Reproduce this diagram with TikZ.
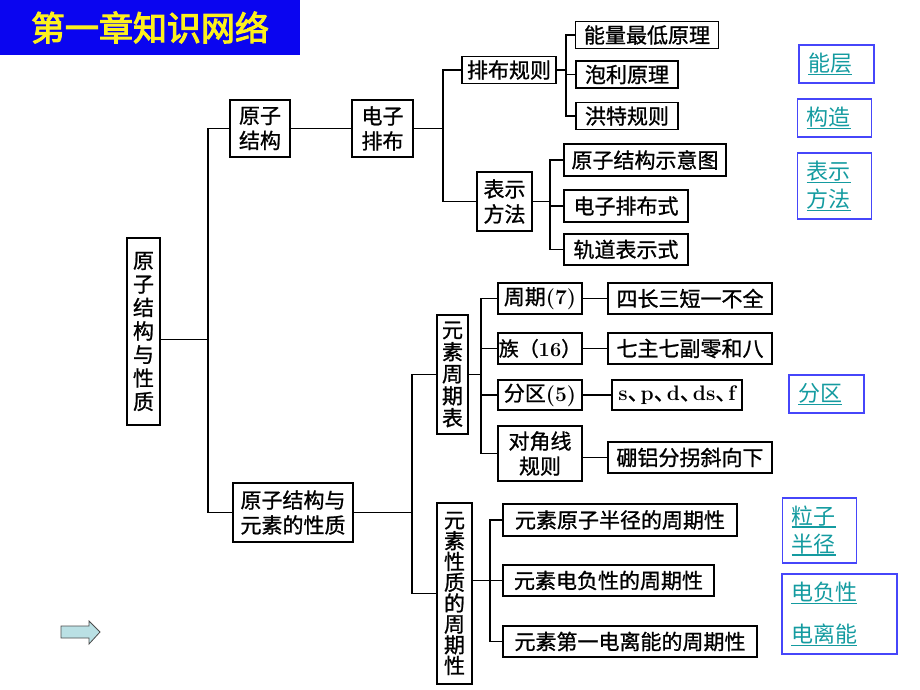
\documentclass[tikz,border=0pt]{standalone}
\usepackage{fontspec}
\usepackage{xcolor}
\newfontfamily\cjk[FakeBold=1]{Noto Sans CJK SC}
\newfontfamily\cjklight{Noto Sans CJK SC}
\newfontfamily\cjktitle[FakeBold=3]{Noto Sans CJK SC}
\usetikzlibrary{positioning}

\definecolor{titleblue}{RGB}{10,5,240}
\definecolor{titleyellow}{RGB}{252,240,30}
\definecolor{linkteal}{RGB}{20,155,160}
\definecolor{linkblue}{RGB}{70,70,250}
\definecolor{arrowfill}{RGB}{186,224,228}

\newcommand\lat[1]{{\rmfamily\bfseries #1}}
\newcommand\dun{\makebox[13pt][l]{、}}
\newsavebox\ulkbox
\newcommand\ulk[1]{\leavevmode\sbox\ulkbox{#1}\rlap{\rule[-3.5pt]{\wd\ulkbox}{1.1pt}}\usebox\ulkbox}

\begin{document}
\begin{tikzpicture}[
    x=1pt, y=-1pt,
    box/.style={draw, line width=1.5pt, inner sep=0pt, align=center, font=\cjk\fontsize{21}{25}\selectfont},
    vbox/.style={box, font=\cjk\fontsize{21}{#1}\selectfont},
    wire/.style={line width=1.5pt},
    link/.style={draw=linkblue, line width=1.2pt, text=linkteal, align=left, inner xsep=9pt, inner ysep=0pt, font=\cjklight\fontsize{22}{28}\selectfont}
]
    \useasboundingbox (0,0) rectangle (920,690);

    % title
    \node[fill=titleblue, text=titleyellow, minimum width=300, minimum height=55, inner sep=0pt,
          font=\cjktitle\fontsize{34}{36}\selectfont] (title) at (150,27.5) {第一章知识网络};

    % left part
    \node[vbox=23.5, minimum width=33, minimum height=187] (root) at (143.5,331.5) {原\\子\\结\\构\\与\\性\\质};
    \node[box, minimum width=60, minimum height=57] (atom) at (260,128.5) {原子\\结构};
    \node[box, minimum width=61, minimum height=57] (elec) at (382.5,128.5) {电子\\排布};
    \node[box, minimum width=120, minimum height=59] (mid) at (293,512.5) {原子结构与\\元素的性质};

    % electron configuration
    \node[box, minimum width=94, minimum height=27] (rule) at (509,70) {排布规则};
    \node[box, minimum width=143, minimum height=27] (low) at (647,35) {能量最低原理};
    \node[box, minimum width=102, minimum height=27] (pauli) at (627,74.5) {泡利原理};
    \node[box, minimum width=102, minimum height=27] (hund) at (627,116) {洪特规则};
    \node[box, minimum width=55, minimum height=59] (repr) at (504.5,201.5) {表示\\方法};
    \node[box, minimum width=162, minimum height=32] (diagram) at (645,160) {原子结构示意图};
    \node[box, minimum width=124, minimum height=32] (config) at (626,206) {电子排布式};
    \node[box, minimum width=124, minimum height=31] (orbital) at (626,249.5) {轨道表示式};

    % periodic table
    \node[vbox=22, minimum width=31, minimum height=119] (table) at (452.5,374.5) {元\\素\\周\\期\\表};
    \node[box, minimum width=84, minimum height=31] (period) at (540,298.5) {周期\lat{(7)}};
    \node[box, minimum width=164, minimum height=31] (periodtxt) at (690,298.5) {四长三短一不全};
    \node[box, minimum width=84, minimum height=31, font=\cjk\fontsize{20}{25}\selectfont] (group) at (540,348.5) {族（\lat{16}）};
    \node[box, minimum width=164, minimum height=31] (grouptxt) at (690,348.5) {七主七副零和八};
    \node[box, minimum width=84, minimum height=30] (block) at (540,395) {分区\lat{(5)}};
    \node[box, minimum width=130, minimum height=30] (blocktxt) at (677,395) {\lat{s}\dun\lat{p}\dun\lat{d}\dun\lat{ds}\dun\lat{f}};
    \node[box, minimum width=84, minimum height=55] (diag) at (540,453.5) {对角线\\规则};
    \node[box, minimum width=164, minimum height=31] (diagtxt) at (690,457.5) {硼铝分拐斜向下};

    % periodic properties
    \node[vbox=20.8, minimum width=35, minimum height=181] (props) at (454.5,593.5) {元\\素\\性\\质\\的\\周\\期\\性};
    \node[box, minimum width=234, minimum height=32] (radius) at (620,520) {元素原子半径的周期性};
    \node[box, minimum width=211, minimum height=31] (eneg) at (608.5,580.5) {元素电负性的周期性};
    \node[box, minimum width=254, minimum height=31] (ion) at (630,641.5) {元素第一电离能的周期性};

    % junctions
    \coordinate (ja) at (208,0);
    \coordinate (jb) at (443,0);
    \coordinate (jc) at (566,0);
    \coordinate (jd) at (550,0);
    \coordinate (je) at (412,0);
    \coordinate (jf) at (481,0);
    \coordinate (jg) at (490,0);

    \draw[wire] ([yshift=-8pt]root.east) -- ([yshift=-8pt]root.east -| ja);
    \draw[wire] (atom.west) -| (ja |- mid.west) -- (mid.west);
    \draw[wire] (atom) -- (elec);

    \draw[wire] (elec.east) -- (elec.east -| jb);
    \draw[wire] (rule.west) -| (jb |- repr.west) -- (repr.west);

    \draw[wire] (rule.east) -- (rule.east -| jc);
    \draw[wire] (low.west) -| (jc |- hund.west) -- (hund.west);
    \draw[wire] (pauli.west) -- (pauli.west -| jc);

    \draw[wire] (repr.east) -- (repr.east -| jd);
    \draw[wire] (diagram.west) -| (jd |- orbital.west) -- (orbital.west);
    \draw[wire] (config.west) -- (config.west -| jd);

    \draw[wire] (mid.east) -- (mid.east -| je);
    \draw[wire] (table.west) -| (je |- props.west) -- (props.west);

    \draw[wire] (table.east) -- (table.east -| jf);
    \draw[wire] (period.west) -| (jf |- diag.west) -- (diag.west);
    \draw[wire] (group.west) -- (group.west -| jf);
    \draw[wire] (block.west) -- (block.west -| jf);
    \draw[wire] (period) -- (periodtxt);
    \draw[wire] (group) -- (grouptxt);
    \draw[wire] (block) -- (blocktxt);
    \draw[wire] (diagtxt.west -| diag.east) -- (diagtxt.west);

    \draw[wire] (props.east |- eneg.west) -- (eneg.west);
    \draw[wire] (radius.west) -| (jg |- ion.west) -- (ion.west);

    % link boxes
    \node[link, text width=57, minimum height=38] (layer) at (836.5,64) {\ulk{能层}};
    \node[link, text width=56, minimum height=38] (build) at (834.5,118) {\ulk{构造}};
    \node[link, text width=56, minimum height=66] (method) at (834.5,186) {\ulk{表示}\\\ulk{方法}};
    \node[link, text width=57, minimum height=38] (zone) at (826.5,394) {\ulk{分区}};
    \node[link, text width=56, minimum height=65] (grain) at (819.5,530.5) {\ulk{粒子}\\\ulk{半径}};
    \node[link, text width=97, minimum height=80] (energy) at (839.5,614) {\ulk{电负性}\\[14pt]\ulk{电离能}};

    % next arrow
    \draw[fill=arrowfill, draw=gray!60!black, line width=0.8pt]
        (61,626) -- (89,626) -- (89,621) -- (100,632) -- (89,644) -- (89,638) -- (61,638) -- cycle;
\end{tikzpicture}
\end{document}
